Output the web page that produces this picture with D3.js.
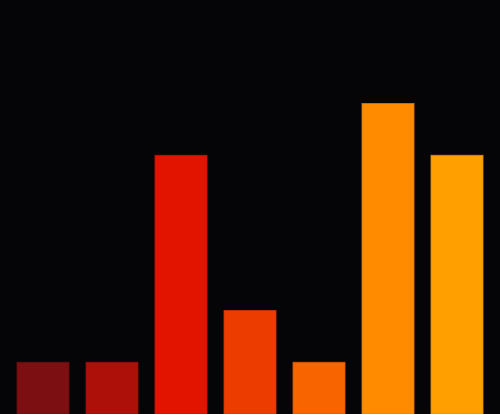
<!DOCTYPE html>
<html>
<head>
<meta charset="utf-8">
<script src="https://cdn.jsdelivr.net/npm/d3@7"></script>
<style>
  html, body { margin: 0; padding: 0; background: #050407; }
  svg { display: block; }
</style>
</head>
<body>
<svg width="500" height="414"></svg>
<script>
var categories = ["A", "B", "C", "D", "E", "F", "G"];
var values = [1, 1, 5, 2, 1, 6, 5];
var colors = ["#7c0f11", "#ad1009", "#e21400", "#ec3c00", "#f86400", "#ff8c00", "#ffa000"];

var svg = d3.select("svg"),
    width = +svg.attr("width"),
    height = +svg.attr("height");

svg.append("rect")
  .attr("width", width)
  .attr("height", height)
  .attr("fill", "#050407");

var xScale = d3.scaleBand().domain(categories).range([0, width]).padding(0.246);
var yScale = d3.scaleLinear().domain([0, 8]).range([height, 0]);

svg.selectAll(".bar")
  .data(values)
  .enter().append("rect")
  .attr("class", "bar")
  .attr("x", function(d, i) { return xScale(categories[i]); })
  .attr("y", function(d) { return yScale(d); })
  .attr("width", xScale.bandwidth())
  .attr("height", function(d) { return height - yScale(d); })
  .attr("fill", function(d, i) { return colors[i]; })
  .attr("stroke", function(d, i) { return d3.color(colors[i]).darker(0.4); })
  .attr("stroke-width", 0.8);
</script>
</body>
</html>
